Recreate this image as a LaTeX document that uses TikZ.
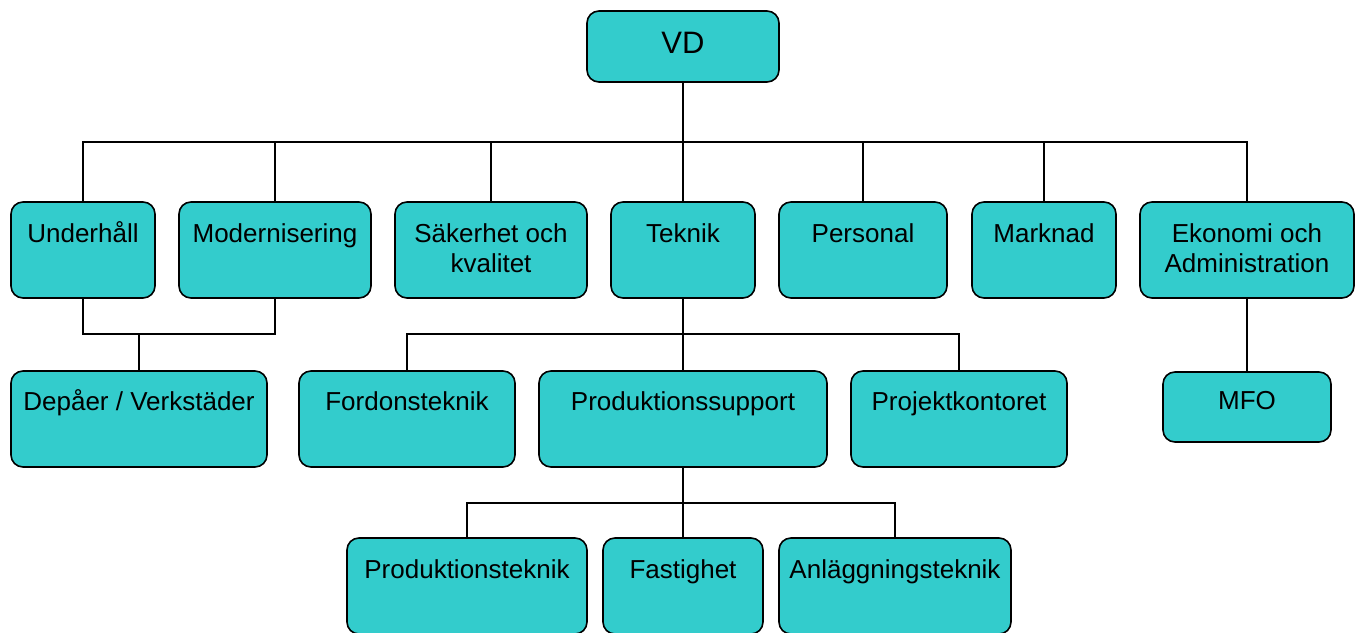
\documentclass[tikz,border=0pt]{standalone}
\usepackage{fontspec}
\setmainfont{Liberation Sans}
\definecolor{unitfill}{HTML}{33CCCC}
\tikzset{
  unit/.style={draw=black, line width=1.6pt, fill=unitfill, rounded corners=12pt, inner sep=0pt, outer sep=0pt},
  unittext/.style={inner sep=0pt, align=center, font=\fontsize{26}{30}\selectfont},
  link/.style={draw=black, line width=1.7pt},
  trunk/.style={draw=black, line width=2.6pt},
}
% name, left, top, right, bottom
\newcommand\unitbox[5]{%
  \node[unit, minimum width={(#4-#2)*1pt}, minimum height={(#5-#3)*1pt}]
    (#1) at ({(#2+#4)/2},{(#3+#5)/2}) {};}
% name of box, offset of the last baseline from the top edge, text
\newcommand\unitlabel[3]{%
  \node[unittext, anchor=base] (#1-t) at ([yshift=-#2pt]#1.north) {#3};}
\begin{document}
\begin{tikzpicture}[x=1pt, y=-1pt]
\useasboundingbox (0,0) rectangle (1363,632);
\clip (0,0) rectangle (1363,632);

% top level
\unitbox{vd}{587}{11}{779}{82}
\node[unittext, anchor=base, font=\fontsize{31}{36}\selectfont] (vd-t) at ([yshift=-42pt]vd.north) {VD};

% first level
\unitbox{und}{11}{202}{155}{298}
\unitbox{mod}{179}{202}{371}{298}
\unitbox{sak}{395}{202}{587}{298}
\unitbox{tek}{611}{202}{755}{298}
\unitbox{per}{779}{202}{947}{298}
\unitbox{mar}{972}{202}{1116}{298}
\unitbox{eko}{1140}{202}{1354}{298}
\unitlabel{und}{40}{Underhåll}
\unitlabel{mod}{40}{Modernisering}
\unitlabel{sak}{70}{Säkerhet och\\kvalitet}
\unitlabel{tek}{40}{Teknik}
\unitlabel{per}{40}{Personal}
\unitlabel{mar}{40}{Marknad}
\unitlabel{eko}{70}{Ekonomi och\\Administration}

% second level
\unitbox{dep}{11}{371}{267}{467}
\unitbox{ford}{299}{371}{515}{467}
\unitbox{prod}{539}{371}{827}{467}
\unitbox{proj}{851}{371}{1067}{467}
\unitbox{mfo}{1163}{372}{1331}{442}
\unitlabel{dep}{39}{Depåer / Verkstäder}
\unitlabel{ford}{39}{Fordonsteknik}
\unitlabel{prod}{39}{Produktionssupport}
\unitlabel{proj}{39}{Projektkontoret}
\unitlabel{mfo}{37}{MFO}

% third level
\unitbox{pte}{347}{538}{587}{634}
\unitbox{fast}{603}{538}{763}{634}
\unitbox{anl}{779}{538}{1011}{634}
\unitlabel{pte}{40}{Produktionsteknik}
\unitlabel{fast}{40}{Fastighet}
\unitlabel{anl}{40}{Anläggningsteknik}

% junction points
\coordinate (bus) at (683,142);
\coordinate (ubus) at (139,334);
\coordinate (tbus) at (683,334);
\coordinate (pbus) at (683,503);

% VD to first level
\draw[link] (und.north) |- (bus) -| (eko.north);
\draw[link] (mod.north) -- (mod.north |- bus);
\draw[link] (sak.north) -- (sak.north |- bus);
\draw[link] (tek.north) -- (tek.north |- bus);
\draw[link] (per.north) -- (per.north |- bus);
\draw[link] (mar.north) -- (mar.north |- bus);
\draw[trunk] (vd.south) -- (bus);

% Underhåll and Modernisering to Depåer
\draw[link] (und.south) |- (ubus) -| (mod.south);
\draw[link] (ubus) -- (dep.north);

% Teknik to its units
\draw[link] (ford.north) |- (tbus) -| (proj.north);
\draw[link] (tbus) -- (prod.north);
\draw[trunk] (tek.south) -- (tbus);

% Produktionssupport to its units
\draw[link] (pte.north) |- (pbus) -| (anl.north);
\draw[link] (pbus) -- (fast.north);
\draw[trunk] (prod.south) -- (pbus);

% Ekonomi to MFO
\draw[link] (eko.south) -- (mfo.north);
\end{tikzpicture}
\end{document}
